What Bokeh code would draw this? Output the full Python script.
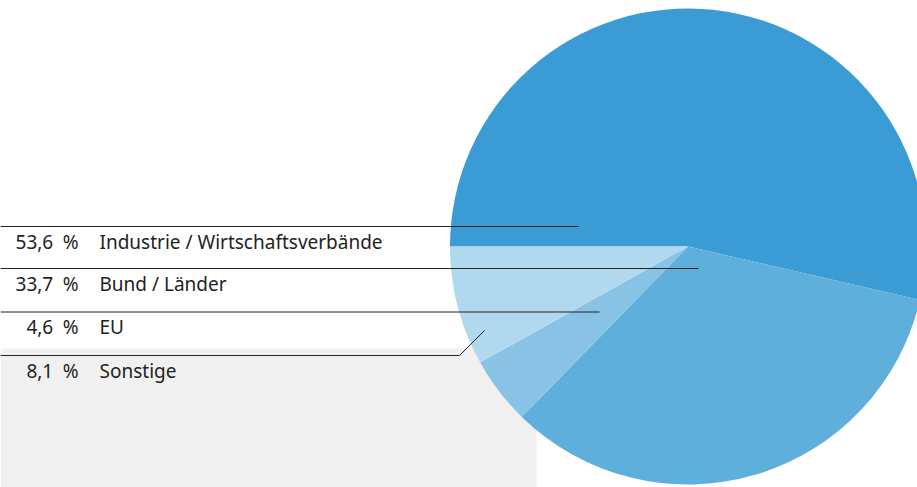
import numpy as np
from bokeh.plotting import figure
from bokeh.models import Range1d, ColumnDataSource
from bokeh.core.properties import value
from bokeh.embed import file_html
from bokeh.resources import INLINE

categories = ["Industrie / Wirtschaftsverbände", "Bund / Länder", "EU", "Sonstige"]
shares = [53.6, 33.7, 4.6, 8.1]
share_labels = ["53,6\u2002%", "33,7\u2002%", "4,6\u2002%", "8,1\u2002%"]
colors = ["#3a9bd5", "#5fafdc", "#88c3e6", "#b0d8ee"]

W, H = 917, 487
cx, cy, r = 687.5, H - 246, 238

p = figure(width=W, height=H, output_backend="svg", toolbar_location=None,
           x_range=Range1d(0, W), y_range=Range1d(0, H), min_border=0)
p.axis.visible = False
p.grid.visible = False
p.outline_line_color = None
p.background_fill_color = "white"
p.border_fill_color = "white"

# grey box
p.quad(left=[0], right=[536], bottom=[0], top=[H - 348], fill_color="#f0f0f0", line_color=None)

vals = np.array(shares)
cum = np.concatenate([[0], np.cumsum(vals) / vals.sum()])
bounds = np.pi - 2 * np.pi * cum
src = ColumnDataSource(dict(start=bounds[1:], end=bounds[:-1], color=colors, cat=categories))
p.wedge(x=cx, y=cy, radius=r, start_angle="start", end_angle="end",
        fill_color="color", line_color=None, source=src)

# leader lines
line_y = [226, 268, 311.5, 355]
line_end = [(578, 226), (698, 268), (599, 311.5), (484, 330)]
for i, (ly, (ex, ey)) in enumerate(zip(line_y, line_end)):
    if i == 3:
        xs = [0, 459, ex]
        ys = [H - ly, H - ly, H - ey]
    else:
        xs = [0, ex]
        ys = [H - ly, H - ey]
    p.line(xs, ys, line_color="#222222", line_width=1)

text_y = [H - (ly + 15) for ly in line_y]
p.text(x=[78] * 4, y=text_y, text=share_labels, text_align="right", text_baseline="middle",
       text_font=value("Noto Sans"), text_font_size="19px", text_color="#222222")
p.text(x=[99] * 4, y=text_y, text=categories, text_align="left", text_baseline="middle",
       text_font=value("Noto Sans"), text_font_size="19px", text_color="#222222")

html = file_html(p, INLINE)
html = html.replace("<body>", '<body style="margin:0;overflow:hidden">', 1)
open("out.html", "w").write(html)
